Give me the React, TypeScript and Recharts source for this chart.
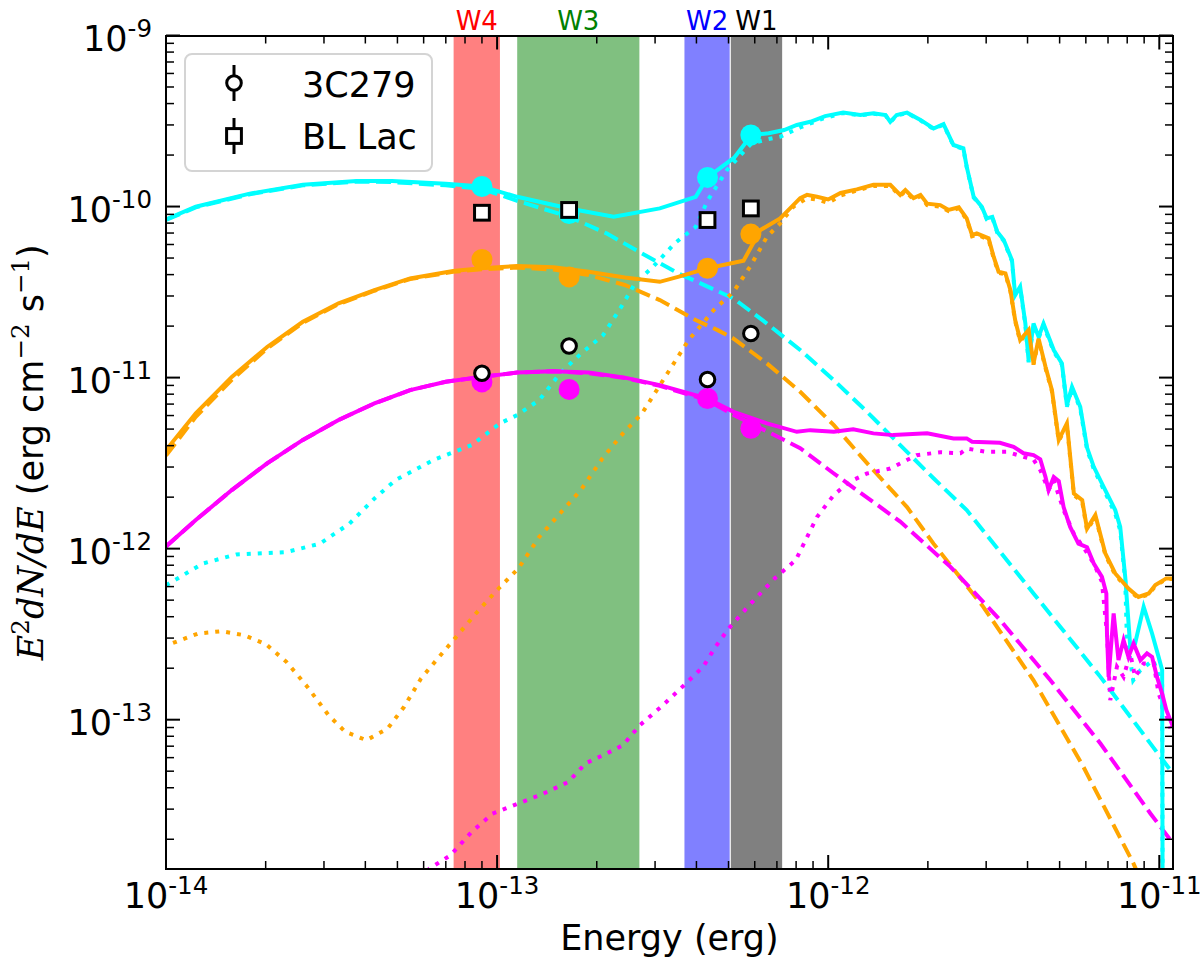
import React from "react";
import { ComposedChart, Line, Scatter, XAxis, YAxis, ReferenceArea } from "recharts";

const W = 1200;
const H = 973;
const PLOT = { left: 166, top: 35.5, right: 1173, bottom: 869 };
const FONT = "DejaVu Sans";

const X_DOMAIN = [1e-14, 1.1e-11];
const Y_DOMAIN = [1.34e-14, 1e-9];
const X_DECADES = [1e-14, 1e-13, 1e-12, 1e-11];
const Y_DECADES = [1e-14, 1e-13, 1e-12, 1e-11, 1e-10, 1e-9];
const MINOR_STEPS = [1, 2, 3, 4, 5, 6, 7, 8, 9];

// WISE bands (erg)
const BAND_NAMES = ["W4", "W3", "W2", "W1"];
const BAND_LO = [7.39e-14, 1.15e-13, 3.68e-13, 5.08e-13];
const BAND_HI = [1.02e-13, 2.69e-13, 5.04e-13, 7.26e-13];
const BAND_CENTER = [9.0e-14, 1.65e-13, 4.32e-13, 5.84e-13];

// model fluxes at the band centres
const CYAN_FLUX = [1.31e-10, 9.1e-11, 1.48e-10, 2.62e-10];
const ORANGE_FLUX = [4.91e-11, 3.88e-11, 4.36e-11, 6.9e-11];
const MAGENTA_FLUX = [9.44e-12, 8.53e-12, 7.55e-12, 5.05e-12];
// observed
const FLUX_3C279 = [1.06e-11, 1.53e-11, 9.75e-12, 1.81e-11];
const FLUX_BLLAC = [9.2e-11, 9.55e-11, 8.34e-11, 9.75e-11];

// [energy, E^2 dN/dE]
const CYAN_TOTAL = [
  [1.0e-14, 8.41e-11], [1.23e-14, 9.98e-11], [1.79e-14, 1.19e-10], [2.59e-14, 1.34e-10],
  [3.76e-14, 1.41e-10], [4.82e-14, 1.41e-10], [7.0e-14, 1.36e-10], [8.97e-14, 1.31e-10],
  [1.15e-13, 1.14e-10], [1.65e-13, 9.75e-11], [2.25e-13, 8.71e-11], [3.1e-13, 9.75e-11],
  [3.98e-13, 1.14e-10], [4.32e-13, 1.48e-10], [5.2e-13, 1.93e-10], [5.87e-13, 2.62e-10],
  [6.61e-13, 2.68e-10], [7.36e-13, 2.8e-10], [8.04e-13, 3.0e-10], [8.83e-13, 3.13e-10],
  [9.79e-13, 3.38e-10], [1.11e-12, 3.54e-10], [1.25e-12, 3.43e-10], [1.37e-12, 3.51e-10],
  [1.49e-12, 3.43e-10], [1.54e-12, 3.13e-10], [1.61e-12, 3.43e-10], [1.73e-12, 3.54e-10],
  [1.9e-12, 3.21e-10], [2.08e-12, 2.86e-10], [2.23e-12, 3.03e-10], [2.39e-12, 2.29e-10],
  [2.56e-12, 2.19e-10], [2.62e-12, 1.71e-10], [2.75e-12, 1.14e-10], [2.91e-12, 9.98e-11],
  [3.01e-12, 8.53e-11], [3.13e-12, 8.71e-11], [3.24e-12, 7.13e-11], [3.39e-12, 6.37e-11],
  [3.59e-12, 4.86e-11], [3.67e-12, 3.03e-11], [3.8e-12, 3.4e-11], [3.94e-12, 2.07e-11],
  [4.03e-12, 1.26e-11], [4.17e-12, 2.07e-11], [4.32e-12, 1.73e-11], [4.47e-12, 2.07e-11],
  [4.8e-12, 1.45e-11], [5.08e-12, 1.21e-11], [5.26e-12, 6.9e-12], [5.45e-12, 8.83e-12],
  [5.77e-12, 6.75e-12], [6.05e-12, 3.9e-12], [6.34e-12, 3.01e-12], [6.79e-12, 2.3e-12],
  [7.36e-12, 1.68e-12], [7.62e-12, 1.34e-12], [7.89e-12, 6.84e-13], [8.17e-12, 2.67e-13],
  [8.45e-12, 2.79e-13], [8.97e-12, 4.57e-13], [9.51e-12, 3.19e-13], [9.95e-12, 2.33e-13],
  [1.02e-11, 1.95e-13], [1.024e-11, 5e-15],
];

const CYAN_HOST = [
  [1.0e-14, 6.1e-13], [1.29e-14, 8.18e-13], [1.63e-14, 9.25e-13], [2.31e-14, 9.55e-13],
  [2.92e-14, 1.07e-12], [3.58e-14, 1.4e-12], [4.27e-14, 1.97e-12], [4.94e-14, 2.52e-12],
  [6.43e-14, 3.3e-12], [8.38e-14, 4.03e-12], [1.02e-13, 5.4e-12], [1.15e-13, 6.04e-12],
  [1.34e-13, 7.38e-12], [1.55e-13, 1.06e-11], [1.8e-13, 1.39e-11], [2.09e-13, 1.77e-11],
  [2.37e-13, 2.59e-11], [2.61e-13, 3.56e-11], [2.96e-13, 4.45e-11], [3.44e-13, 6.1e-11],
  [3.98e-13, 7.62e-11], [4.33e-13, 1.09e-10], [4.94e-13, 1.63e-10], [5.55e-13, 2.09e-10],
  [5.87e-13, 2.34e-10], [6.53e-13, 2.47e-10], [7.16e-13, 2.56e-10], [8.23e-13, 2.9e-10],
  [9.68e-13, 3.28e-10], [1.11e-12, 3.52e-10], [1.25e-12, 3.41e-10], [1.37e-12, 3.49e-10],
  [1.49e-12, 3.41e-10], [1.54e-12, 3.11e-10], [1.61e-12, 3.41e-10], [1.73e-12, 3.52e-10],
  [1.9e-12, 3.19e-10], [2.08e-12, 2.84e-10], [2.23e-12, 3.01e-10], [2.39e-12, 2.27e-10],
  [2.56e-12, 2.17e-10], [2.62e-12, 1.7e-10], [2.75e-12, 1.13e-10], [2.91e-12, 9.9e-11],
  [3.01e-12, 8.45e-11], [3.13e-12, 8.63e-11], [3.24e-12, 7.05e-11], [3.39e-12, 6.3e-11],
  [3.59e-12, 4.8e-11], [3.67e-12, 2.98e-11], [3.8e-12, 3.35e-11], [3.94e-12, 2.03e-11],
  [4.03e-12, 1.23e-11], [4.17e-12, 2.03e-11], [4.32e-12, 1.7e-11], [4.47e-12, 2.03e-11],
  [4.8e-12, 1.42e-11], [5.08e-12, 1.19e-11], [5.26e-12, 6.75e-12], [5.45e-12, 8.65e-12],
  [5.77e-12, 6.6e-12], [6.05e-12, 3.8e-12], [6.34e-12, 2.92e-12], [6.79e-12, 2.22e-12],
  [7.36e-12, 1.6e-12], [7.62e-12, 1.28e-12], [7.89e-12, 6.5e-13], [7.98e-12, 3.05e-13],
  [8.34e-12, 1.7e-13], [8.77e-12, 1.95e-13], [9.59e-12, 2.23e-13], [1.02e-11, 1.6e-13],
  [1.024e-11, 5e-15],
];

const CYAN_SYNC = [
  [1.0e-14, 8.35e-11], [1.23e-14, 9.9e-11], [1.79e-14, 1.18e-10], [2.59e-14, 1.33e-10],
  [3.76e-14, 1.4e-10], [4.82e-14, 1.39e-10], [7.0e-14, 1.33e-10], [8.97e-14, 1.27e-10],
  [1.15e-13, 1.08e-10], [1.65e-13, 8.71e-11], [2.14e-13, 6.97e-11], [2.74e-13, 5.32e-11],
  [3.52e-13, 4.07e-11], [4.1e-13, 3.57e-11], [5.18e-13, 2.9e-11], [6.53e-13, 2.07e-11],
  [8.23e-13, 1.45e-11], [1.04e-12, 9.66e-12], [1.31e-12, 6.31e-12], [1.65e-12, 4.03e-12],
  [2.08e-12, 2.58e-12], [2.62e-12, 1.68e-12], [4.17e-12, 5.47e-13], [6.64e-12, 1.78e-13],
  [1.08e-11, 5.07e-14], [1.1e-11, 4.8e-14],
];

const ORANGE_TOTAL = [
  [1.0e-14, 3.77e-12], [1.23e-14, 6.18e-12], [1.58e-14, 1.01e-11], [2.02e-14, 1.51e-11],
  [2.59e-14, 2.12e-11], [3.32e-14, 2.72e-11], [4.26e-14, 3.25e-11], [5.46e-14, 3.8e-11],
  [7.36e-14, 4.2e-11], [8.97e-14, 4.36e-11], [1.15e-13, 4.49e-11], [1.48e-13, 4.41e-11],
  [1.89e-13, 4.16e-11], [2.43e-13, 3.85e-11], [3.1e-13, 3.63e-11], [3.52e-13, 3.88e-11],
  [4.32e-13, 4.36e-11], [5.55e-13, 4.82e-11], [6.24e-13, 7.29e-11], [7.16e-13, 8.53e-11],
  [7.67e-13, 9.75e-11], [8.23e-13, 1.12e-10], [8.63e-13, 1.17e-10], [9.25e-13, 1.14e-10],
  [1.0e-12, 1.1e-10], [1.09e-12, 1.2e-10], [1.22e-12, 1.26e-10], [1.37e-12, 1.34e-10],
  [1.54e-12, 1.34e-10], [1.65e-12, 1.17e-10], [1.71e-12, 1.25e-10], [1.81e-12, 1.12e-10],
  [1.9e-12, 1.17e-10], [1.99e-12, 1.04e-10], [2.18e-12, 1.02e-10], [2.31e-12, 9.55e-11],
  [2.48e-12, 9.89e-11], [2.62e-12, 8.53e-11], [2.72e-12, 6.81e-11], [2.81e-12, 6.97e-11],
  [3.05e-12, 6.52e-11], [3.16e-12, 5.09e-11], [3.27e-12, 4.16e-11], [3.43e-12, 4.07e-11],
  [3.55e-12, 3.25e-11], [3.67e-12, 2.17e-11], [3.8e-12, 1.66e-11], [4.03e-12, 1.9e-11],
  [4.17e-12, 1.21e-11], [4.32e-12, 1.69e-11], [4.53e-12, 1.16e-11], [4.74e-12, 8.45e-12],
  [4.97e-12, 4.32e-12], [5.26e-12, 5.4e-12], [5.52e-12, 2.1e-12], [5.85e-12, 1.92e-12],
  [6.05e-12, 1.31e-12], [6.41e-12, 1.57e-12], [6.87e-12, 9.38e-13], [7.36e-12, 7.16e-13],
  [8.07e-12, 5.85e-13], [8.65e-12, 5.22e-13], [9.29e-12, 5.47e-13], [9.73e-12, 6.12e-13],
  [1.05e-11, 6.7e-13], [1.1e-11, 6.7e-13],
];

const ORANGE_HOST = [
  [1.05e-14, 2.81e-13], [1.25e-14, 3.19e-13], [1.47e-14, 3.29e-13], [1.72e-14, 3.12e-13],
  [2.0e-14, 2.77e-13], [2.31e-14, 2.18e-13], [2.67e-14, 1.56e-13], [3.1e-14, 1.06e-13],
  [3.48e-14, 8.49e-14], [4.03e-14, 7.59e-14], [4.67e-14, 8.87e-14], [5.24e-14, 1.19e-13],
  [5.89e-14, 1.74e-13], [6.62e-14, 2.28e-13], [7.45e-14, 2.98e-13], [8.63e-14, 4.18e-13],
  [9.98e-14, 5.71e-13], [1.16e-13, 7.66e-13], [1.34e-13, 1.17e-12], [1.55e-13, 1.61e-12],
  [1.79e-13, 2.2e-12], [2.08e-13, 3.37e-12], [2.4e-13, 4.72e-12], [2.74e-13, 6.18e-12],
  [3.27e-13, 1.06e-11], [3.79e-13, 1.66e-11], [4.51e-13, 2.48e-11], [5.18e-13, 3.18e-11],
  [5.81e-13, 4.45e-11], [6.53e-13, 6.65e-11], [7.16e-13, 7.98e-11], [7.85e-13, 9.98e-11],
  [8.63e-13, 1.12e-10], [9.25e-13, 1.1e-10], [1.0e-12, 1.05e-10], [1.09e-12, 1.16e-10],
  [1.22e-12, 1.24e-10], [1.37e-12, 1.32e-10], [1.54e-12, 1.32e-10], [1.65e-12, 1.15e-10],
  [1.71e-12, 1.23e-10], [1.81e-12, 1.1e-10], [1.9e-12, 1.15e-10], [1.99e-12, 1.02e-10],
  [2.18e-12, 1.0e-10], [2.31e-12, 9.4e-11], [2.48e-12, 9.75e-11], [2.62e-12, 8.4e-11],
  [2.72e-12, 6.7e-11], [2.81e-12, 6.85e-11], [3.05e-12, 6.42e-11], [3.16e-12, 5.0e-11],
  [3.27e-12, 4.1e-11], [3.43e-12, 4.01e-11], [3.55e-12, 3.2e-11], [3.67e-12, 2.14e-11],
  [3.8e-12, 1.63e-11], [4.03e-12, 1.87e-11], [4.17e-12, 1.19e-11], [4.32e-12, 1.66e-11],
  [4.53e-12, 1.14e-11], [4.74e-12, 8.3e-12], [4.97e-12, 4.25e-12], [5.26e-12, 5.3e-12],
  [5.52e-12, 2.06e-12], [5.85e-12, 1.88e-12], [6.05e-12, 1.28e-12], [6.41e-12, 1.54e-12],
  [6.87e-12, 9.2e-13], [7.36e-12, 7.02e-13], [8.07e-12, 5.75e-13], [8.65e-12, 5.14e-13],
  [9.29e-12, 5.4e-13], [9.73e-12, 6.05e-13], [1.05e-11, 6.65e-13], [1.1e-11, 6.65e-13],
];

const ORANGE_SYNC = [
  [1.0e-14, 3.5e-12], [1.23e-14, 5.9e-12], [1.58e-14, 9.7e-12], [2.02e-14, 1.48e-11],
  [2.59e-14, 2.09e-11], [3.32e-14, 2.69e-11], [4.26e-14, 3.22e-11], [5.46e-14, 3.77e-11],
  [7.36e-14, 4.15e-11], [8.97e-14, 4.3e-11], [1.15e-13, 4.4e-11], [1.48e-13, 4.28e-11],
  [1.89e-13, 3.98e-11], [2.43e-13, 3.48e-11], [3.1e-13, 2.84e-11], [3.98e-13, 2.17e-11],
  [4.62e-13, 1.9e-11], [5.18e-13, 1.69e-11], [6.53e-13, 1.21e-11], [8.23e-13, 8.26e-12],
  [1.04e-12, 5.27e-12], [1.31e-12, 3.16e-12], [1.73e-12, 1.75e-12], [2.08e-12, 1.07e-12],
  [2.94e-12, 4.57e-13], [4.17e-12, 1.7e-13], [5.9e-12, 5.3e-14], [8.36e-12, 1.44e-14],
  [9.08e-12, 1.0e-14],
];

const MAGENTA_TOTAL = [
  [1.0e-14, 1.03e-12], [1.23e-14, 1.47e-12], [1.58e-14, 2.2e-12], [2.02e-14, 3.15e-12],
  [2.59e-14, 4.32e-12], [3.32e-14, 5.65e-12], [4.26e-14, 7.06e-12], [5.46e-14, 8.45e-12],
  [7.0e-14, 9.46e-12], [8.97e-14, 1.01e-11], [1.15e-13, 1.07e-11], [1.48e-13, 1.09e-11],
  [1.89e-13, 1.07e-11], [2.43e-13, 1.0e-11], [3.1e-13, 9.04e-12], [4.3e-13, 7.55e-12],
  [5.18e-13, 6.31e-12], [6.53e-13, 5.4e-12], [8.04e-13, 4.82e-12], [8.83e-13, 4.93e-12],
  [1.04e-12, 4.82e-12], [1.19e-12, 4.98e-12], [1.37e-12, 4.72e-12], [1.57e-12, 4.61e-12],
  [1.99e-12, 4.72e-12], [2.39e-12, 4.41e-12], [2.62e-12, 4.41e-12], [2.72e-12, 4.22e-12],
  [3.3e-12, 4.16e-12], [3.63e-12, 3.94e-12], [3.89e-12, 3.61e-12], [4.17e-12, 3.52e-12],
  [4.37e-12, 3.33e-12], [4.53e-12, 2.63e-12], [4.63e-12, 2.2e-12], [4.8e-12, 2.62e-12],
  [4.97e-12, 2.48e-12], [5.14e-12, 1.75e-12], [5.38e-12, 1.34e-12], [5.7e-12, 1.07e-12],
  [6.05e-12, 1.02e-12], [6.34e-12, 8.18e-13], [6.71e-12, 6.84e-13], [6.92e-12, 5.47e-13],
  [6.95e-12, 3.19e-13], [7.03e-12, 1.78e-13], [7.28e-12, 4.18e-13], [7.53e-12, 2.23e-13],
  [7.8e-12, 2.92e-13], [8.07e-12, 2.33e-13], [8.36e-12, 2.79e-13], [8.77e-12, 2.23e-13],
  [9.18e-12, 2.44e-13], [9.51e-12, 2.33e-13], [9.84e-12, 1.78e-13], [1.02e-11, 1.42e-13],
  [1.05e-11, 1.14e-13], [1.1e-11, 9.08e-14],
];

const MAGENTA_HOST = [
  [5.65e-14, 1.01e-14], [6.25e-14, 1.35e-14], [7.23e-14, 1.61e-14], [8.38e-14, 2.21e-14],
  [9.68e-14, 2.82e-14], [1.16e-13, 3.24e-14], [1.38e-13, 3.7e-14], [1.64e-13, 4.32e-14],
  [1.85e-13, 5.55e-14], [2.14e-13, 6.34e-14], [2.4e-13, 7.1e-14], [2.7e-13, 9.29e-14],
  [3.13e-13, 1.19e-13], [3.67e-13, 1.59e-13], [4.19e-13, 2.04e-13], [4.57e-13, 2.67e-13],
  [5.0e-13, 3.41e-13], [5.78e-13, 4.68e-13], [6.89e-13, 6.7e-13], [7.98e-13, 8.57e-13],
  [9.25e-13, 1.53e-12], [1.04e-12, 2.06e-12], [1.16e-12, 2.46e-12], [1.31e-12, 2.75e-12],
  [1.54e-12, 2.94e-12], [1.85e-12, 3.52e-12], [2.18e-12, 3.66e-12], [2.51e-12, 3.61e-12],
  [2.62e-12, 3.85e-12], [3.01e-12, 3.68e-12], [3.47e-12, 3.68e-12], [3.89e-12, 3.44e-12],
  [4.17e-12, 3.32e-12], [4.37e-12, 2.88e-12], [4.63e-12, 2.2e-12], [4.8e-12, 2.51e-12],
  [5.14e-12, 1.68e-12], [5.52e-12, 1.22e-12], [5.9e-12, 1.02e-12], [6.34e-12, 8.18e-13],
  [6.71e-12, 6.4e-13], [6.95e-12, 3.19e-13], [7.11e-12, 1.3e-13], [7.45e-12, 2.04e-13],
  [7.8e-12, 1.78e-13], [8.17e-12, 2.44e-13], [8.45e-12, 1.78e-13], [8.97e-12, 2.13e-13],
  [9.62e-12, 2.13e-13], [9.95e-12, 1.42e-13], [1.04e-11, 1.14e-13], [1.08e-11, 8.89e-14],
];

const MAGENTA_SYNC = [
  [1.0e-14, 1.03e-12], [1.23e-14, 1.47e-12], [1.58e-14, 2.2e-12], [2.02e-14, 3.15e-12],
  [2.59e-14, 4.32e-12], [3.32e-14, 5.65e-12], [4.26e-14, 7.06e-12], [5.46e-14, 8.45e-12],
  [7.0e-14, 9.46e-12], [8.97e-14, 1.01e-11], [1.15e-13, 1.07e-11], [1.48e-13, 1.09e-11],
  [1.89e-13, 1.06e-11], [2.43e-13, 9.95e-12], [3.1e-13, 8.95e-12], [4.3e-13, 7.4e-12],
  [5.18e-13, 6.05e-12], [6.53e-13, 4.85e-12], [8.23e-13, 3.87e-12], [1.04e-12, 2.75e-12],
  [1.65e-12, 1.44e-12], [2.34e-12, 7.83e-13], [3.31e-12, 3.82e-13], [4.69e-12, 1.7e-13],
  [6.64e-12, 7.26e-14], [9.4e-12, 2.83e-14], [1.1e-11, 1.89e-14],
];

const COLORS = { cyan: "#00ffff", orange: "#ffa500", magenta: "#ff00ff" };
const BAND_FILL = ["#ff8080", "#80c080", "#8080ff", "#808080"];
const BAND_TEXT = ["#ff0000", "#008000", "#0000ff", "#000000"];

const toPoints = (rows: number[][]) => rows.map(([x, y]) => ({ x, y }));
const atBands = (flux: number[]) => BAND_CENTER.map((x, i) => ({ x, y: flux[i] }));

const buildTicks = (decades: number[], lo: number, hi: number) =>
  decades
    .flatMap((d) => MINOR_STEPS.map((m) => m * d))
    .filter((v) => v >= lo * 0.999 && v <= hi * 1.001);

const X_TICKS = buildTicks(X_DECADES, X_DOMAIN[0], X_DOMAIN[1]);
const Y_TICKS = buildTicks(Y_DECADES, Y_DOMAIN[0], Y_DOMAIN[1]);

const isMajor = (v: number) => Math.abs(Math.log10(v) - Math.round(Math.log10(v))) < 1e-6;
const expOf = (v: number) => Math.round(Math.log10(v));

const XTick = (props: any) => {
  const { x, payload } = props;
  const v = payload.value;
  const major = isMajor(v);
  const len = major ? 14 : 8;
  const sw = major ? 2 : 1.5;
  return (
    <g>
      <line x1={x} x2={x} y1={PLOT.bottom} y2={PLOT.bottom - len} stroke="#000" strokeWidth={sw} />
      <line x1={x} x2={x} y1={PLOT.top} y2={PLOT.top + len} stroke="#000" strokeWidth={sw} />
      {major && (
        <text x={x} y={908} textAnchor="middle" fontSize={35} fontFamily={FONT} fill="#000">
          <tspan>10</tspan>
          <tspan dy={-14} fontSize={24.5}>{`-${-expOf(v)}`}</tspan>
        </text>
      )}
    </g>
  );
};

const YTick = (props: any) => {
  const { y, payload } = props;
  const v = payload.value;
  const major = isMajor(v);
  const len = major ? 14 : 8;
  const sw = major ? 2 : 1.5;
  return (
    <g>
      <line x1={PLOT.left} x2={PLOT.left + len} y1={y} y2={y} stroke="#000" strokeWidth={sw} />
      <line x1={PLOT.right} x2={PLOT.right - len} y1={y} y2={y} stroke="#000" strokeWidth={sw} />
      {major && (
        <text x={152} y={y + 15.5} textAnchor="end" fontSize={35} fontFamily={FONT} fill="#000">
          <tspan>10</tspan>
          <tspan dy={-14} fontSize={24.5}>{`-${-expOf(v)}`}</tspan>
        </text>
      )}
    </g>
  );
};

const filledDot = (color: string) => (p: any) => <circle cx={p.cx} cy={p.cy} r={10.5} fill={color} />;
const openCircle = (p: any) => (
  <circle cx={p.cx} cy={p.cy} r={7.3} fill="#fff" stroke="#000" strokeWidth={3} />
);
const openSquare = (p: any) => (
  <rect x={p.cx - 7.4} y={p.cy - 7.4} width={14.8} height={14.8} fill="#fff" stroke="#000" strokeWidth={3} />
);

const LW = 4;
const DASH = "15 6.5";
const DOT = "4 7";

const SERIES = [
  { key: "cyanSync", rows: CYAN_SYNC, color: COLORS.cyan, dash: DASH },
  { key: "orangeSync", rows: ORANGE_SYNC, color: COLORS.orange, dash: DASH },
  { key: "magentaSync", rows: MAGENTA_SYNC, color: COLORS.magenta, dash: DASH },
  { key: "cyanHost", rows: CYAN_HOST, color: COLORS.cyan, dash: DOT },
  { key: "orangeHost", rows: ORANGE_HOST, color: COLORS.orange, dash: DOT },
  { key: "magentaHost", rows: MAGENTA_HOST, color: COLORS.magenta, dash: DOT },
  { key: "cyanTotal", rows: CYAN_TOTAL, color: COLORS.cyan, dash: undefined },
  { key: "orangeTotal", rows: ORANGE_TOTAL, color: COLORS.orange, dash: undefined },
  { key: "magentaTotal", rows: MAGENTA_TOTAL, color: COLORS.magenta, dash: undefined },
];

export default function App() {
  return (
    <div style={{ position: "absolute", left: 0, top: 0, width: W, height: H, background: "#fff", fontFamily: FONT }}>
      <ComposedChart width={W} height={H} margin={{ top: PLOT.top, right: W - PLOT.right, bottom: 0, left: 0 }}>
        <XAxis
          type="number"
          dataKey="x"
          scale="log"
          domain={X_DOMAIN}
          allowDataOverflow
          ticks={X_TICKS}
          interval={0}
          height={H - PLOT.bottom}
          tickLine={false}
          axisLine={false}
          tick={XTick}
        />
        <YAxis
          type="number"
          dataKey="y"
          scale="log"
          domain={Y_DOMAIN}
          allowDataOverflow
          ticks={Y_TICKS}
          interval={0}
          width={PLOT.left}
          tickLine={false}
          axisLine={false}
          tick={YTick}
        />
        {BAND_NAMES.map((name, i) => (
          <ReferenceArea
            key={name}
            x1={BAND_LO[i]}
            x2={BAND_HI[i]}
            fill={BAND_FILL[i]}
            fillOpacity={1}
            stroke="none"
            label={{ value: name, position: "top", fill: BAND_TEXT[i], fontSize: 26, fontFamily: FONT, offset: 6 }}
          />
        ))}
        {SERIES.map((s) => (
          <Line
            key={s.key}
            data={toPoints(s.rows)}
            dataKey="y"
            type="linear"
            stroke={s.color}
            strokeWidth={LW}
            strokeDasharray={s.dash}
            dot={false}
            activeDot={false}
            isAnimationActive={false}
          />
        ))}
        <Scatter data={atBands(CYAN_FLUX)} shape={filledDot(COLORS.cyan)} isAnimationActive={false} />
        <Scatter data={atBands(ORANGE_FLUX)} shape={filledDot(COLORS.orange)} isAnimationActive={false} />
        <Scatter data={atBands(MAGENTA_FLUX)} shape={filledDot(COLORS.magenta)} isAnimationActive={false} />
        <Scatter data={atBands(FLUX_3C279)} shape={openCircle} isAnimationActive={false} />
        <Scatter data={atBands(FLUX_BLLAC)} shape={openSquare} isAnimationActive={false} />
      </ComposedChart>

      {/* axes frame */}
      <div
        style={{
          position: "absolute",
          left: PLOT.left - 1,
          top: PLOT.top - 1,
          width: PLOT.right - PLOT.left + 2,
          height: PLOT.bottom - PLOT.top + 2,
          border: "2px solid #000",
          boxSizing: "border-box",
          pointerEvents: "none",
        }}
      />

      {/* legend box */}
      <div
        style={{
          position: "absolute",
          left: 184,
          top: 53,
          width: 249,
          height: 119,
          border: "2px solid #d4d4d4",
          borderRadius: 8,
          boxSizing: "border-box",
          background: "rgba(255,255,255,0.8)",
        }}
      />

      <svg width={W} height={H} style={{ position: "absolute", left: 0, top: 0, pointerEvents: "none" }}>
        {/* legend entries */}
        <line x1={234} x2={234} y1={65} y2={101} stroke="#000" strokeWidth={3} />
        <circle cx={234} cy={83} r={7.3} fill="#fff" stroke="#000" strokeWidth={3} />
        <text x={302} y={96.5} fontSize={35} fontFamily={FONT} fill="#000">3C279</text>
        <line x1={234} x2={234} y1={118} y2={154} stroke="#000" strokeWidth={3} />
        <rect x={226.6} y={128.6} width={14.8} height={14.8} fill="#fff" stroke="#000" strokeWidth={3} />
        <text x={302} y={149} fontSize={35} fontFamily={FONT} fill="#000">BL Lac</text>

        {/* axis labels */}
        <text x={(PLOT.left + PLOT.right) / 2} y={950} textAnchor="middle" fontSize={35} fontFamily={FONT} fill="#000">
          Energy (erg)
        </text>
        <text
          transform={`translate(43, ${(PLOT.top + PLOT.bottom) / 2}) rotate(-90)`}
          textAnchor="middle"
          fontSize={35}
          fontFamily={FONT}
          fill="#000"
        >
          <tspan fontFamily="DejaVu Serif" fontStyle="italic">E</tspan>
          <tspan fontFamily="DejaVu Serif" fontSize={24.5} dy={-14}>2</tspan>
          <tspan fontFamily="DejaVu Serif" fontStyle="italic" dy={14}>dN/dE</tspan>
          <tspan>{" (erg cm"}</tspan>
          <tspan fontFamily="DejaVu Serif" fontSize={24.5} dy={-14}>{"\u22122"}</tspan>
          <tspan dy={14}>{" s"}</tspan>
          <tspan fontFamily="DejaVu Serif" fontSize={24.5} dy={-14}>{"\u22121"}</tspan>
          <tspan dy={14}>{")"}</tspan>
        </text>
      </svg>
    </div>
  );
}
